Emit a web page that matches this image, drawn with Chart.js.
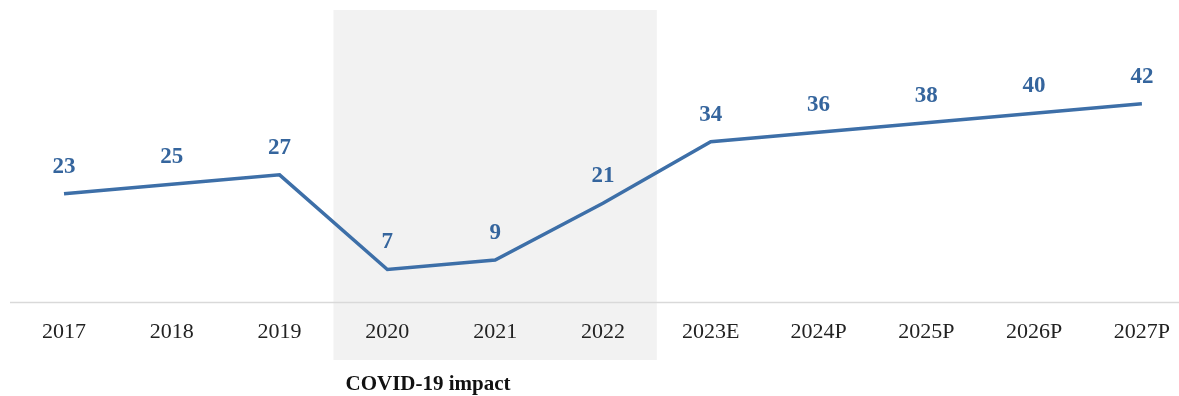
<!DOCTYPE html>
<html>
<head>
<meta charset="utf-8">
<script src="https://cdn.jsdelivr.net/npm/chart.js@4.4.0/dist/chart.umd.min.js"></script>
<style>
html,body{margin:0;padding:0;background:#fff;overflow:hidden;}
#wrap{width:1179px;height:396px;position:relative;overflow:hidden;}
</style>
</head>
<body>
<div id="wrap"><canvas id="c" width="1186" height="396"></canvas></div>
<script>
const categories = ["2017","2018","2019","2020","2021","2022","2023E","2024P","2025P","2026P","2027P"];
const values = [23,25,27,7,9,21,34,36,38,40,42];
const covidRange = ["2020","2022"];
const covidLabel = "COVID-19 impact";

const serif = "'Liberation Serif','Times New Roman',serif";

const extras = {
  id: 'extras',
  beforeDraw(chart) {
    const ctx = chart.ctx;
    const x = chart.scales.x;
    const i0 = categories.indexOf(covidRange[0]);
    const i1 = categories.indexOf(covidRange[1]);
    const step = x.getPixelForValue(1) - x.getPixelForValue(0);
    const left = x.getPixelForValue(i0) - step / 2;
    const right = x.getPixelForValue(i1) + step / 2;
    ctx.save();
    ctx.fillStyle = '#f2f2f2';
    ctx.fillRect(left, 10, right - left, 350);
    // baseline
    const y0 = chart.scales.y.getPixelForValue(0);
    ctx.strokeStyle = '#d9d9d9';
    ctx.lineWidth = 1.5;
    ctx.beginPath();
    ctx.moveTo(10, y0);
    ctx.lineTo(chart.width, y0);
    ctx.stroke();
    // covid label
    ctx.fillStyle = '#111';
    ctx.font = "bold 21px " + serif;
    ctx.textAlign = 'left';
    ctx.textBaseline = 'middle';
    ctx.fillText(covidLabel, left + 12, 385);
    ctx.restore();
  },
  afterDatasetsDraw(chart) {
    const ctx = chart.ctx;
    const meta = chart.getDatasetMeta(0);
    ctx.save();
    ctx.fillStyle = '#35659d';
    ctx.font = "bold 23px " + serif;
    ctx.textAlign = 'center';
    ctx.textBaseline = 'middle';
    meta.data.forEach((pt, i) => {
      ctx.fillText(String(values[i]), pt.x, pt.y - 27);
    });
    ctx.restore();
  }
};

new Chart(document.getElementById('c'), {
  type: 'line',
  data: {
    labels: categories,
    datasets: [{
      data: values,
      borderColor: '#3d6fa8',
      borderWidth: 3.5,
      pointRadius: 0,
      tension: 0,
      fill: false
    }]
  },
  options: {
    responsive: false,
    animation: false,
    devicePixelRatio: 1,
    layout: { padding: { left: 64, right: 31, top: 66, bottom: 35 } },
    plugins: { legend: { display: false }, tooltip: { enabled: false } },
    scales: {
      x: {
        offset: false,
        grid: { display: false, drawTicks: false },
        border: { display: false },
        ticks: { color: '#222', font: { family: serif, size: 22 }, padding: 16, maxRotation: 0, autoSkip: false }
      },
      y: {
        display: false,
        min: 0,
        max: 50
      }
    }
  },
  plugins: [extras]
});
</script>
</body>
</html>
